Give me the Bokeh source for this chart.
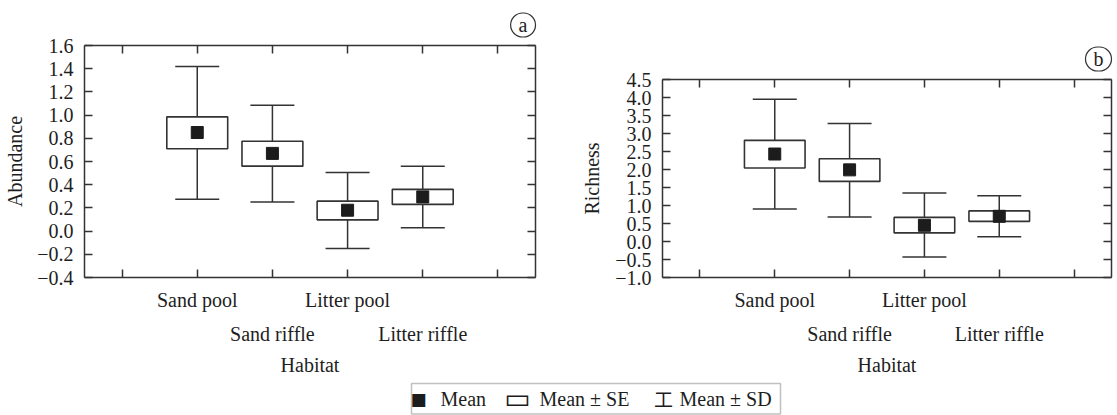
from bokeh.plotting import figure
from bokeh.models import (Range1d, FixedTicker, LinearAxis, Label, BoxAnnotation,
                          ColumnDataSource, Spacer)
from bokeh.layouts import column, row
from bokeh.embed import file_html
from bokeh.resources import INLINE

# ---------------- data ----------------
categories = ["Sand pool", "Sand riffle", "Litter pool", "Litter riffle"]
label_row = [0, 1, 0, 1]          # staggered category label rows
x_ticks = [0, 1, 2, 3, 4, 5]

abund_mean = [0.85, 0.67, 0.18, 0.295]
abund_se_lo = [0.71, 0.56, 0.097, 0.23]
abund_se_hi = [0.985, 0.775, 0.258, 0.36]
abund_sd_lo = [0.275, 0.25, -0.15, 0.028]
abund_sd_hi = [1.42, 1.085, 0.505, 0.56]
abund_ticks = [-0.4, -0.2, 0.0, 0.2, 0.4, 0.6, 0.8, 1.0, 1.2, 1.4, 1.6]
abund_tick_labels = ["\u22120.4", "\u22120.2", "0.0", "0.2", "0.4", "0.6", "0.8",
                     "1.0", "1.2", "1.4", "1.6"]

rich_mean = [2.43, 1.99, 0.45, 0.70]
rich_se_lo = [2.04, 1.67, 0.24, 0.56]
rich_se_hi = [2.81, 2.30, 0.67, 0.85]
rich_sd_lo = [0.90, 0.68, -0.43, 0.13]
rich_sd_hi = [3.95, 3.28, 1.35, 1.27]
rich_ticks = [-1.0, -0.5, 0.0, 0.5, 1.0, 1.5, 2.0, 2.5, 3.0, 3.5, 4.0, 4.5]
rich_tick_labels = ["\u22121.0", "\u22120.5", "0.0", "0.5", "1.0", "1.5", "2.0",
                    "2.5", "3.0", "3.5", "4.0", "4.5"]

legend_texts = ["Mean", "Mean \u00b1 SE", "Mean \u00b1 SD"]
legend_symbols = ["\u25a0", "\u25ad", "\u5de5"]

# ---------------- style ----------------
FONT = "Liberation Serif"
INK = "#333333"
TXT = "#1e1e1e"
FS = "20px"


def style_axis(ax, labels=True, line=True):
    ax.major_tick_in = 8 if line else 0
    ax.major_tick_out = 0
    ax.minor_tick_in = 0
    ax.minor_tick_out = 0
    ax.axis_line_color = INK if line else None
    ax.axis_line_width = 1.5
    ax.major_tick_line_color = INK if line else None
    ax.major_tick_line_width = 1.5
    if labels:
        ax.major_label_text_font = FONT
        ax.major_label_text_font_size = FS
        ax.major_label_text_color = TXT
    else:
        # tick marks only: labels are neither drawn nor given room
        ax.major_label_text_font_size = "1px"
        ax.major_label_text_color = None
        ax.major_label_standoff = 0


def panel(ylabel, y_ticks, y_tick_labels, mean, se_lo, se_hi, sd_lo, sd_hi,
          width, height, bl, br, bt, bb, tag, ylabel_standoff):
    p = figure(width=width, height=height, output_backend="svg", toolbar_location=None,
               x_range=Range1d(-0.5, 5.5), y_range=Range1d(y_ticks[0], y_ticks[-1]),
               x_axis_location=None, y_axis_location=None, title=tag,
               title_location="above",
               min_border_left=bl, min_border_right=br, min_border_top=bt,
               min_border_bottom=bb)
    for g in p.grid:
        g.visible = False
    p.outline_line_color = None
    p.background_fill_color = "white"
    p.border_fill_color = "white"

    # panel tag, circled
    p.title.align = "right"
    p.title.text_font = FONT
    p.title.text_font_size = FS
    p.title.text_font_style = "normal"
    p.title.text_color = TXT
    p.title.border_line_color = INK
    p.title.border_line_width = 1.2
    p.title.border_radius = 12
    p.title.padding = (8, 8, 1, 1)   # left, right, top, bottom
    p.title.standoff = 17

    left = LinearAxis(ticker=FixedTicker(ticks=y_ticks),
                      major_label_overrides={t: s for t, s in zip(y_ticks, y_tick_labels)},
                      axis_label=ylabel)
    style_axis(left)
    left.major_label_standoff = 11
    left.axis_label_text_font = FONT
    left.axis_label_text_font_size = FS
    left.axis_label_text_font_style = "normal"
    left.axis_label_text_color = TXT
    left.axis_label_standoff = ylabel_standoff
    p.add_layout(left, "left")

    right = LinearAxis(ticker=FixedTicker(ticks=y_ticks))
    style_axis(right, labels=False)
    p.add_layout(right, "right")

    top = LinearAxis(ticker=FixedTicker(ticks=x_ticks))
    style_axis(top, labels=False)
    p.add_layout(top, "above")

    bottom = LinearAxis(ticker=FixedTicker(ticks=x_ticks))
    style_axis(bottom, labels=False)
    p.add_layout(bottom, "below")

    xs = list(range(1, len(categories) + 1))

    # two staggered rows of category labels; the second carries the axis title
    for r, standoff in ((0, 11), (1, 9)):
        pos = [float(x) for x, rr in zip(xs, label_row) if rr == r]
        over = {float(x): cat for x, cat, rr in zip(xs, categories, label_row) if rr == r}
        ax = LinearAxis(ticker=FixedTicker(ticks=pos), major_label_overrides=over)
        style_axis(ax, line=False)
        ax.major_label_standoff = standoff
        if r == 1:
            ax.axis_label = "Habitat"
            ax.axis_label_text_font = FONT
            ax.axis_label_text_font_size = FS
            ax.axis_label_text_font_style = "normal"
            ax.axis_label_text_color = TXT
            ax.axis_label_standoff = 6
        p.add_layout(ax, "below")

    src = ColumnDataSource(dict(x=xs, mean=mean, se_lo=se_lo, se_hi=se_hi,
                                sd_lo=sd_lo, sd_hi=sd_hi))
    p.segment(x0="x", y0="sd_lo", x1="x", y1="sd_hi", source=src,
              line_color=INK, line_width=1.5)
    p.scatter(x="x", y="sd_hi", source=src, marker="dash", size=44,
              line_color=INK, line_width=1.5)
    p.scatter(x="x", y="sd_lo", source=src, marker="dash", size=44,
              line_color=INK, line_width=1.5)
    p.vbar(x="x", bottom="se_lo", top="se_hi", width=0.81, source=src,
           fill_color="white", line_color=INK, line_width=1.6)
    p.scatter(x="x", y="mean", source=src, marker="square", size=12,
              fill_color="#1c1c1c", line_color="#1c1c1c")
    return p


pa = panel("Abundance", abund_ticks, abund_tick_labels, abund_mean, abund_se_lo,
           abund_se_hi, abund_sd_lo, abund_sd_hi, width=560, height=380,
           bl=84, br=25, bt=45, bb=103, tag="a", ylabel_standoff=8)
pb = panel("Richness", rich_ticks, rich_tick_labels, rich_mean, rich_se_lo,
           rich_se_hi, rich_sd_lo, rich_sd_hi, width=557, height=346,
           bl=102, br=6, bt=45, bb=103, tag="b", ylabel_standoff=9)

# ---------------- legend strip ----------------
pl = figure(width=1117, height=35, output_backend="svg", toolbar_location=None,
            x_range=Range1d(0, 1117), y_range=Range1d(0, 35),
            x_axis_location=None, y_axis_location=None,
            min_border=0, min_border_left=0, min_border_right=0,
            min_border_top=0, min_border_bottom=0)
for g in pl.grid:
    g.visible = False
pl.outline_line_color = None
pl.border_fill_color = "white"
pl.add_layout(BoxAnnotation(left=411, right=780, bottom=1.5, top=32, fill_color=None,
                            fill_alpha=0, line_color=INK, line_width=1.5))
sym_x = [418, 517, 663]
sym_font = ["DejaVu Sans", "DejaVu Sans", "Noto Sans CJK SC"]
sym_size = ["17px", "28px", "19px"]
txt_x = [440, 539, 679]
for sx, sym, fnt, fsz, tx, t in zip(sym_x, legend_symbols, sym_font, sym_size,
                                     txt_x, legend_texts):
    pl.add_layout(Label(x=sx, y=17, text=sym, text_font=fnt,
                        text_font_size=fsz, text_color="#1c1c1c",
                        text_align="center", text_baseline="middle"))
    pl.add_layout(Label(x=tx, y=16.5, text=t, text_font=FONT, text_font_size=FS,
                        text_color=TXT, text_align="left",
                        text_baseline="middle"))

layout = column(row(pa, column(Spacer(width=557, height=34), pb)), pl)
open("out.html", "w").write(file_html(layout, INLINE))
